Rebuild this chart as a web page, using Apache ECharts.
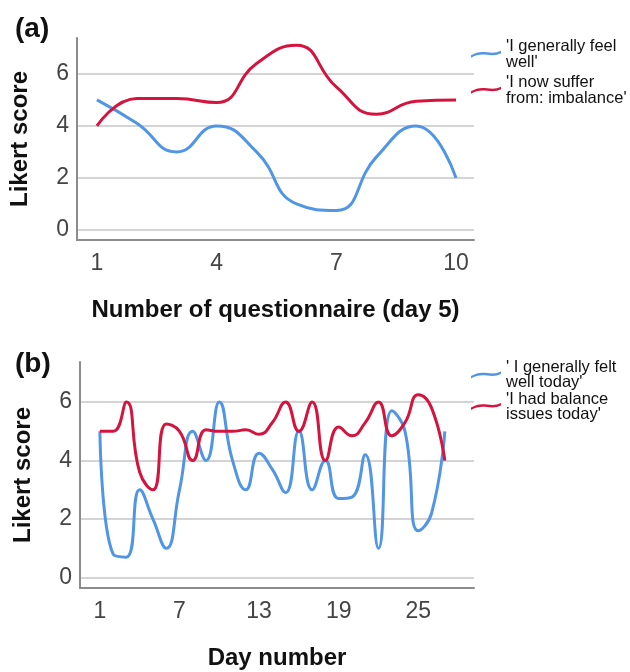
<!DOCTYPE html>
<html>
<head>
<meta charset="utf-8">
<script src="https://cdn.jsdelivr.net/npm/echarts@6/dist/echarts.min.js"></script>
<style>html,body{margin:0;padding:0;background:#fff;}#c{width:630px;height:672px;}</style>
</head>
<body>
<div id="c"></div>
<script>
// Panel (a)
var questionnaire = [1, 2, 3, 4, 5, 6, 7, 8, 9, 10];
var feelWellA = [5, 4.1, 3, 4, 3.0, 1.0, 0.75, 2.8, 4, 2];
var imbalanceA = [4, 5.05, 5.05, 4.9, 6.4, 7.1, 5.5, 4.45, 4.95, 5.0];
var xTicksA = [1, 4, 7, 10];
// Panel (b)
var days = [1,2,3,4,5,6,7,8,9,10,11,12,13,14,15,16,17,18,19,20,21,22,23,24,25,26,27];
var feltWellB = [5, 0.8, 0.7, 3, 2, 1, 3, 5, 4, 6, 4, 3, 4.25, 3.7, 2.9, 5, 3, 4, 2.7, 2.75, 4.2, 1, 5.7, 5.0, 1.6, 2.2, 5];
var balanceB = [5, 5.0, 6, 3.6, 3.0, 5.25, 5.0, 4, 5.05, 5.0, 5.0, 5.05, 4.9, 5.3, 6, 5, 6, 4, 5.15, 4.85, 5.3, 6, 4.85, 5.3, 6.25, 5.8, 4];
var xTicksB = [1, 7, 13, 19, 25];
var yTicks = [0, 2, 4, 6];

var names = {
  a1: "'I generally feel well'",
  a2: "'I now suffer from: imbalance'",
  b1: "' I generally felt well today'",
  b2: "'I had balance issues today'"
};
var wrapped = {};
wrapped[names.a1] = "'I generally feel\nwell'";
wrapped[names.a2] = "'I now suffer\nfrom: imbalance'";
wrapped[names.b1] = "' I generally felt\nwell today'";
wrapped[names.b2] = "'I had balance\nissues today'";

function pairs(xs, ys) { return xs.map(function (x, i) { return [x, ys[i]]; }); }

var BLUE = '#5096e4';
var RED = '#d4143f';
var FONT = 'Arial, "Liberation Sans", sans-serif';
var wave = 'path://M0,4.5 C5,1.5 10,0.5 16,1.5 C22,2.5 26,2 30,0 L30,2.6 C26,4.6 22,5.1 16,4.1 C10,3.1 5,4.1 0,7 Z';

function yAxis(gi, min, max) {
  return {
    type: 'value', gridIndex: gi, min: min, max: max,
    name: 'Likert score', nameLocation: 'middle', nameGap: 45,
    nameTextStyle: { fontFamily: FONT, fontSize: 24, fontWeight: 'bold', color: '#111' },
    axisLine: { show: true, onZero: false, lineStyle: { color: '#8c8c8c', width: 2 } },
    axisTick: { show: false, customValues: yTicks },
    axisLabel: { customValues: yTicks, margin: 8, fontFamily: FONT, fontSize: 23, color: '#444' },
    splitLine: { show: true, lineStyle: { color: '#c6c6c6', width: 1.5 } }
  };
}
function xAxis(gi, min, max, ticks, name) {
  return {
    type: 'value', gridIndex: gi, min: min, max: max,
    name: name, nameLocation: 'middle', nameGap: 58,
    nameTextStyle: { fontFamily: FONT, fontSize: 24, fontWeight: 'bold', color: '#111' },
    axisLine: { show: true, onZero: false, lineStyle: { color: '#8c8c8c', width: 2 } },
    axisTick: { show: false, customValues: ticks },
    axisLabel: { customValues: ticks, margin: 12, fontFamily: FONT, fontSize: 23, color: '#444' },
    splitLine: { show: false }
  };
}
function line(name, xi, data, color) {
  return {
    name: name, type: 'line', xAxisIndex: xi, yAxisIndex: xi, data: data,
    smooth: 0.5, showSymbol: false, symbol: 'none', silent: true,
    lineStyle: { color: color, width: 3 }, itemStyle: { color: color }
  };
}
function legend(names2, top, gap, lh) {
  return {
    data: names2, orient: 'vertical', left: 471, top: top, itemGap: gap, padding: 0,
    itemWidth: 30, itemHeight: 7, icon: wave, itemStyle: { borderWidth: 0 },
    formatter: function (n) { return wrapped[n]; },
    textStyle: { fontFamily: FONT, fontSize: 16.5, lineHeight: lh, color: '#111' },
    selectedMode: false
  };
}

var chart = echarts.init(document.getElementById('c'), null, { renderer: 'canvas' });
chart.setOption({
  backgroundColor: '#fff',
  animation: false,
  title: [
    { text: '(a)', left: 10, top: 10, textStyle: { fontFamily: FONT, fontSize: 28, fontWeight: 'bold', color: '#111' } },
    { text: '(b)', left: 10, top: 345, textStyle: { fontFamily: FONT, fontSize: 28, fontWeight: 'bold', color: '#111' } }
  ],
  legend: [
    legend([names.a1, names.a2], 38, 3.5, 15.5),
    legend([names.b1, names.b2], 359, -0.5, 15)
  ],
  grid: [
    { left: 77, top: 38, width: 397, height: 202 },
    { left: 80, top: 362, width: 394, height: 226 }
  ],
  xAxis: [
    xAxis(0, 0.5, 10.45, xTicksA, 'Number of questionnaire (day 5)'),
    xAxis(1, -0.5, 29.2, xTicksB, 'Day number')
  ],
  yAxis: [
    yAxis(0, -0.385, 7.38),
    yAxis(1, -0.355, 7.37)
  ],
  series: [
    line(names.a1, 0, pairs(questionnaire, feelWellA), BLUE),
    line(names.a2, 0, pairs(questionnaire, imbalanceA), RED),
    line(names.b1, 1, pairs(days, feltWellB), BLUE),
    line(names.b2, 1, pairs(days, balanceB), RED)
  ]
});
</script>
</body>
</html>
